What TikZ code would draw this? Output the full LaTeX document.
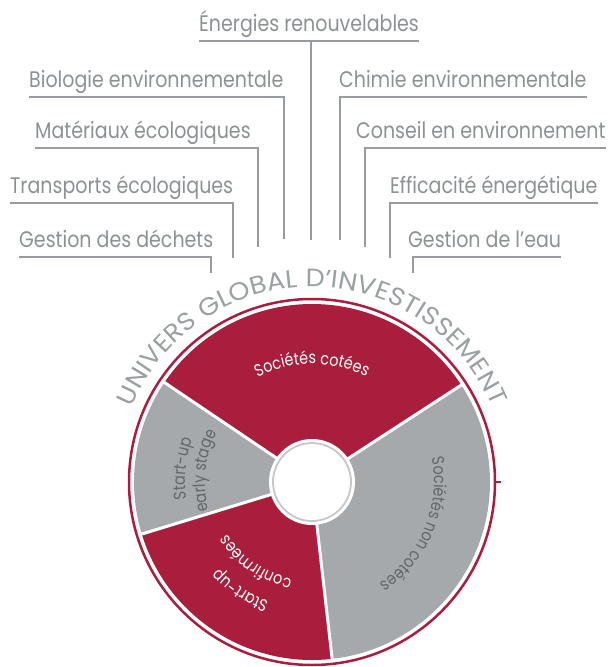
\documentclass[tikz,border=0pt]{standalone}
\usepackage{fontspec}
\setmainfont{Poppins}
\newfontfamily\labfont{Poppins}[FakeStretch=0.845]
\newfontfamily\archfont{Poppins}[FakeStretch=1.08]
\usetikzlibrary{decorations.text}

\definecolor{wheelred}{RGB}{168,30,60}
\definecolor{wheelgray}{RGB}{166,169,171}
\definecolor{labelgray}{RGB}{140,145,148}
\definecolor{archgray}{RGB}{155,160,163}
\definecolor{rulegray}{RGB}{152,156,159}
\definecolor{darktext}{RGB}{100,103,106}

\newcommand{\sectfont}{\labfont\fontsize{17}{20}\selectfont}
\newcommand{\arcfont}{\archfont\fontsize{25}{25}\selectfont}

\begin{document}
\begin{tikzpicture}[
    x=1pt, y=1pt,
    topic/.style={font=\labfont\fontsize{22.5}{26}\selectfont, text=labelgray,
      inner xsep=0pt, inner ysep=0pt, text depth=10pt, anchor=base west},
    rule/.style={draw=rulegray, line width=2pt},
    divider/.style={draw=white, line width=3pt},
    hubline/.style={draw=black!22, line width=1.8pt},
    ringline/.style={draw=wheelred, line width=2.5pt},
    arcword/.style={decorate, decoration={text along path, text align=center, text color=#1}}
]
\useasboundingbox (0,0) rectangle (616,-667);

% Topics
\node[topic] (ener) at (199,-31) {Énergies renouvelables};
\node[topic] (bio)  at (29,-87)   {Biologie environnementale};
\node[topic] (mat)  at (35,-138)  {Matériaux écologiques};
\node[topic] (trans) at (10,-193) {Transports écologiques};
\node[topic] (dech) at (19,-247)  {Gestion des déchets};
\node[topic] (chim) at (339,-87)  {Chimie environnementale};
\node[topic] (cons) at (356,-138) {Conseil en environnement};
\node[topic] (eff)  at (390,-193) {Efficacité énergétique};
\node[topic] (eau)  at (408,-247) {Gestion de l’eau};

% Feet of the rules
\coordinate (enerf)  at (311,-240);
\coordinate (biof)   at (284,-239);
\coordinate (matf)   at (258,-247);
\coordinate (transf) at (233,-258);
\coordinate (dechf)  at (211,-273);
\coordinate (chimf)  at (340,-240);
\coordinate (consf)  at (365,-247);
\coordinate (efff)   at (390,-258);
\coordinate (eauf)   at (413,-273);

% Rules
\draw[rule] (ener.south west) -- (ener.south east);
\draw[rule] (ener.south -| enerf) -- (enerf);
\foreach \t in {bio, mat, trans, dech} {
    \draw[rule] (\t.south west) -| (\t f);
}
\foreach \t in {chim, cons, eff, eau} {
    \draw[rule] (\t.south east) -| (\t f);
}

% Wheel
\coordinate (O) at (312,-482);
\foreach \a/\b/\c in {33/146/wheelred, 146/197/wheelgray, 197/276.5/wheelred, 276.5/393/wheelgray} {
    \fill[\c] (O) -- ([shift={(\a:178)}]O) arc[start angle=\a, end angle=\b, radius=178pt] -- cycle;
}
\foreach \a in {33, 146, 197, 276.5} {
    \draw[divider] (O) -- ([shift={(\a:180)}]O);
}
\fill[white] (O) circle[radius=43pt];
\draw[hubline] (O) circle[radius=39pt];
\draw[ringline] (O) circle[radius=183pt];
\draw[ringline] ([shift={(0:183)}]O) -- ++(6,0);

% Curved titles
\path[arcword=archgray, decoration={text={|\arcfont|UNIVERS GLOBAL D’INVESTISSEMENT}}]
    ([shift={(178:195)}]O) arc[start angle=178, end angle=2, radius=195pt];
\path[arcword=white, decoration={text={|\sectfont|Sociétés cotées}}]
    ([shift={(140:118)}]O) arc[start angle=140, end angle=40, radius=118pt];
\path[arcword=darktext, decoration={text={|\sectfont|Sociétés non cotées}}]
    ([shift={(35:122)}]O) arc[start angle=35, end angle=-80, radius=122pt];
\path[arcword=darktext, decoration={text={|\sectfont|Start-up}}]
    ([shift={(214:127)}]O) arc[start angle=214, end angle=134, radius=127pt];
\path[arcword=darktext, decoration={text={|\sectfont|early stage}}]
    ([shift={(214:107)}]O) arc[start angle=214, end angle=134, radius=107pt];
\path[arcword=white, decoration={text={|\sectfont|Start-up}}]
    ([shift={(276.5:127)}]O) arc[start angle=276.5, end angle=196.5, radius=127pt];
\path[arcword=white, decoration={text={|\sectfont|confirmées}}]
    ([shift={(275:99)}]O) arc[start angle=275, end angle=195, radius=99pt];
\end{tikzpicture}
\end{document}
